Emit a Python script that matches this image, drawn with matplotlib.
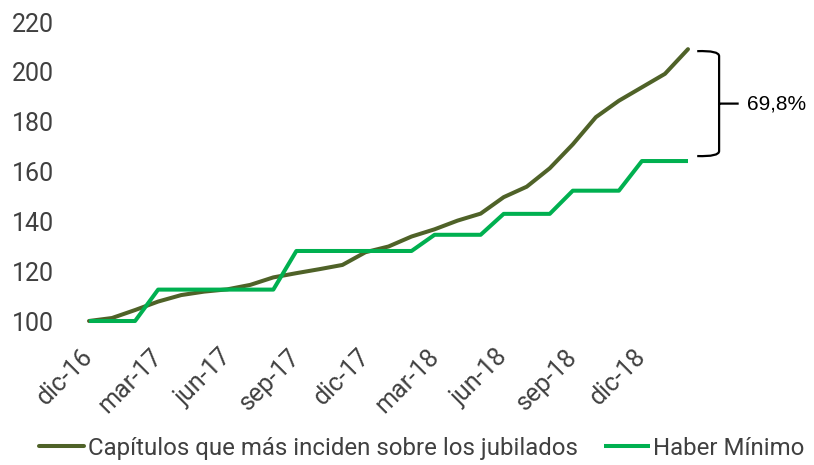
import matplotlib
matplotlib.use("Agg")
import matplotlib.pyplot as plt
from matplotlib.path import Path
from matplotlib.patches import PathPatch
import matplotlib.transforms as mtransforms
import numpy as np

plt.rcParams['font.family'] = ['Roboto', 'DejaVu Sans']

# monthly index, dic-16 .. feb-19 (base 100)
months = ["dic-16", "ene-17", "feb-17", "mar-17", "abr-17", "may-17", "jun-17", "jul-17",
          "ago-17", "sep-17", "oct-17", "nov-17", "dic-17", "ene-18", "feb-18", "mar-18",
          "abr-18", "may-18", "jun-18", "jul-18", "ago-18", "sep-18", "oct-18", "nov-18",
          "dic-18", "ene-19", "feb-19"]
capitulos = [100.0, 101.2, 104.4, 107.8, 110.4, 111.8, 112.7, 114.5, 117.5, 119.2, 120.8,
             122.5, 127.6, 129.9, 133.9, 136.8, 140.3, 143.1, 149.7, 153.9, 161.3, 170.9,
             181.8, 188.4, 193.8, 199.2, 209.1]
haber_minimo = [100.0, 100.0, 100.0, 112.6, 112.6, 112.6, 112.6, 112.6, 112.6, 128.1, 128.1,
                128.1, 128.1, 128.1, 128.1, 134.6, 134.6, 134.6, 143.0, 143.0, 143.0, 152.3,
                152.3, 152.3, 164.2, 164.2, 164.2]
brecha_label = "69,8%"
label_series = ["Capítulos que más inciden sobre los jubilados", "Haber Mínimo"]

W, H = 814, 465
fig = plt.figure(figsize=(W / 100, H / 100), dpi=100)
ax = fig.add_axes([89 / W, 1 - 321 / H, (688 - 89) / W, (321 - 22) / H])

x = np.arange(len(months))
ax.plot(x, capitulos, color="#4F6228", lw=2.9, label=label_series[0],
        solid_capstyle="round", clip_on=False)
ax.plot(x, haber_minimo, color="#00B050", lw=2.9, label=label_series[1],
        solid_capstyle="butt", clip_on=False)

ax.set_xlim(0, len(months) - 1)
ax.set_ylim(100, 220)
ax.set_yticks(np.arange(100, 221, 20))
ax.set_xticks(x[::3])
ax.set_xticklabels(months[::3], rotation=45, ha="right", va="top", rotation_mode="anchor")
ax.tick_params(length=0, labelsize=18, labelcolor="#404040")
ax.tick_params(axis="y", pad=25)
ax.tick_params(axis="x", pad=17)
for lab in ax.get_xticklabels():
    lab.set_transform(lab.get_transform() + mtransforms.ScaledTranslation(-8 / 100, 0, fig.dpi_scale_trans))
for s in ax.spines.values():
    s.set_visible(False)

# brace between the two end values
x0, x1, xt = 26.4, 27.35, 28.2
y_top, y_bot = 208.3, 166.2
y_mid = (y_top + y_bot) / 2
verts = [(x0, y_top), (x1, y_top + 0.3), (x1, y_top - 2), (x1, y_top - 3),
         (x1, y_mid + 1.5), (x1, y_mid), (xt, y_mid),
         (x1, y_mid), (x1, y_mid - 1.5), (x1, y_bot + 3),
         (x1, y_bot + 2), (x1, y_bot - 0.3), (x0, y_bot)]
codes = [Path.MOVETO, Path.CURVE3, Path.CURVE3, Path.LINETO,
         Path.CURVE3, Path.CURVE3, Path.LINETO,
         Path.MOVETO, Path.CURVE3, Path.CURVE3,
         Path.LINETO, Path.CURVE3, Path.CURVE3]
ax.add_patch(PathPatch(Path(verts, codes), fill=False, lw=1.6, color="black", clip_on=False))
ax.text(28.55, y_mid, brecha_label, fontsize=15, family=["Liberation Sans", "DejaVu Sans"],
        ha="left", va="center", color="black")

fig.legend(loc="lower center", bbox_to_anchor=(0.518, -0.035), ncol=2, frameon=False,
           fontsize=17.3, labelcolor="#404040", handlelength=1.9, handletextpad=0.15,
           columnspacing=1.1)

fig.savefig("out.png", dpi=100)
